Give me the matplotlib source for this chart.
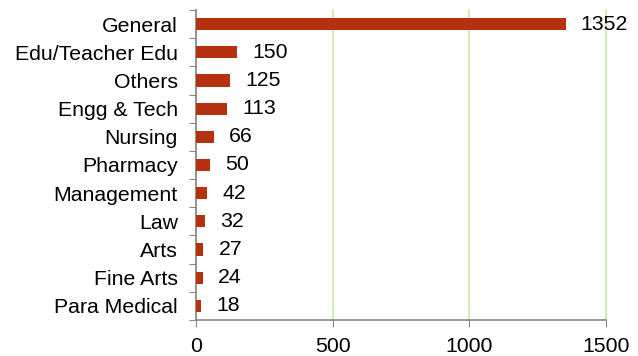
import matplotlib.pyplot as plt

plt.rcParams['font.family'] = ['Liberation Sans', 'DejaVu Sans']

# categories and counts, top to bottom as in the chart
categories = ["General", "Edu/Teacher Edu", "Others", "Engg & Tech", "Nursing",
              "Pharmacy", "Management", "Law", "Arts", "Fine Arts", "Para Medical"]
counts = [1352, 150, 125, 113, 66, 50, 42, 32, 27, 24, 18]

bar_color = "#B5310F"
axis_color = "#868686"
grid_color = "#D3EBB0"

fig = plt.figure(figsize=(6.38, 3.56), dpi=100)
ax = fig.add_axes([196 / 638, 36 / 356, 410 / 638, 310 / 356])

pos = list(range(len(categories)))
ax.barh(pos, counts, height=0.43, color=bar_color, zorder=3)
ax.set_ylim(len(categories) - 0.5, -0.5)
ax.set_xlim(0, 1500)
ax.set_xticks([0, 500, 1000, 1500])

# labels between tick marks, ticks on category boundaries
ax.set_yticks([p + 0.5 for p in range(-1, len(categories))], minor=False)
ax.set_yticklabels([])
ax.set_yticks(pos, minor=True)
ax.set_yticklabels(categories, minor=True)
ax.tick_params(axis='y', which='minor', length=0, pad=13, labelsize=15.3)
ax.tick_params(axis='y', which='major', length=5, color=axis_color, direction='out')
ax.tick_params(axis='x', length=5, color=axis_color, labelsize=15.3, pad=7)

ax.xaxis.grid(True, color=grid_color, linewidth=1.4, zorder=0)
for gl in ax.get_xgridlines():
    gl.set_clip_on(False)
for s in ['top', 'right']:
    ax.spines[s].set_visible(False)
for s in ['left', 'bottom']:
    ax.spines[s].set_color(axis_color)
    ax.spines[s].set_linewidth(1.2)

for p, v in zip(pos, counts):
    ax.annotate(str(v), (v, p), xytext=(11, 0), textcoords='offset points',
                va='center', ha='left', fontsize=15.3, zorder=4)

fig.savefig("out.png", dpi=100)
